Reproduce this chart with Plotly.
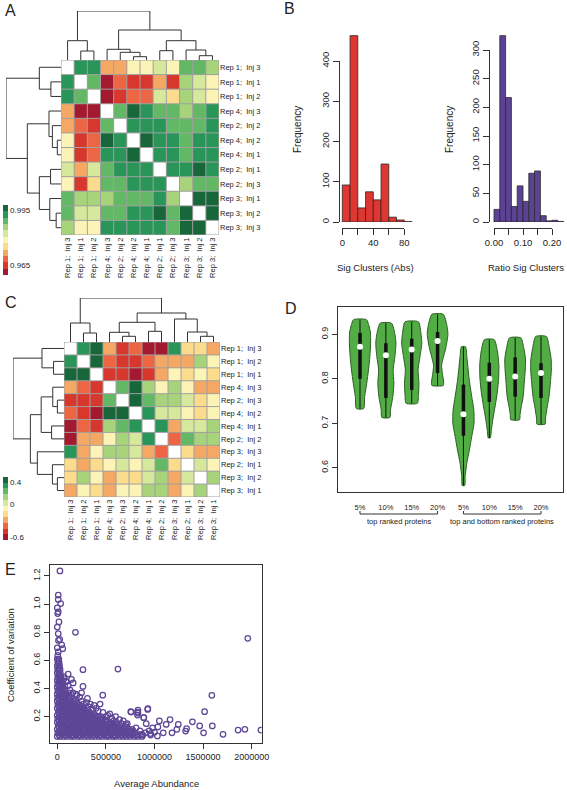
import plotly.graph_objects as go

W, H = 567, 790
def px(x): return x / W
def py(y): return 1 - y / H

FONT = "Liberation Sans, Arial, sans-serif"
TXT = "#222222"
LINE = "#333333"

# ---------------- data: panel A ----------------
labels_A = ["Rep 1;  Inj 3", "Rep 1;  Inj 1", "Rep 1;  Inj 2", "Rep 4;  Inj 3",
            "Rep 2;  Inj 2", "Rep 4;  Inj 2", "Rep 4;  Inj 1", "Rep 2;  Inj 1",
            "Rep 2;  Inj 3", "Rep 3;  Inj 1", "Rep 3;  Inj 2", "Rep 3;  Inj 3"]
corr_A = [
    [None, .993, .993, .972, .972, .979, .979, .982, .979, .989, .989, .986],
    [.993, None, .989, .961, .968, .965, .965, .972, .965, .986, .982, .979],
    [.993, .989, None, .961, .965, .968, .968, .982, .975, .986, .982, .979],
    [.972, .961, .961, None, .989, .996, .993, .989, .989, .986, .989, .993],
    [.972, .968, .965, .989, None, .993, .993, .993, .989, .989, .989, .993],
    [.979, .965, .968, .996, .993, None, .996, .993, .993, .989, .993, .993],
    [.979, .965, .968, .993, .993, .996, None, .993, .993, .989, .993, .993],
    [.982, .972, .982, .989, .993, .993, .993, None, .993, .993, .996, .993],
    [.979, .965, .975, .989, .989, .993, .993, .993, None, .986, .989, .989],
    [.989, .986, .986, .986, .989, .989, .989, .993, .986, None, .996, .996],
    [.989, .982, .982, .989, .989, .993, .993, .996, .989, .996, None, .996],
    [.986, .979, .979, .993, .993, .993, .993, .993, .989, .996, .996, None],
]
range_A = [0.9595, 0.998]
ticks_A = [0.965, 0.995]
# merges: (left, right, height)
merges_A = [(1, 2, 9.0), (0, 12, 19.3), (5, 6, 3.3), (4, 14, 7.7), (3, 15, 10.7),
            (7, 8, 9.3), (10, 11, 4.3), (9, 18, 10.0), (17, 19, 19.3),
            (16, 20, 30.0), (13, 21, 49.0)]

# ---------------- data: panel C ----------------
labels_C = ["Rep 1;  Inj 3", "Rep 1;  Inj 2", "Rep 1;  Inj 1", "Rep 4;  Inj 3",
            "Rep 2;  Inj 3", "Rep 4;  Inj 2", "Rep 4;  Inj 1", "Rep 2;  Inj 2",
            "Rep 3;  Inj 3", "Rep 2;  Inj 1", "Rep 3;  Inj 2", "Rep 3;  Inj 1"]
corr_C = [
    [None, .33, .44, -.29, -.49, -.39, -.60, -.60, .33, -.18, -.18, -.29],
    [.33, None, .44, -.39, -.49, -.49, -.39, -.29, -.29, -.29, .13, -.08],
    [.44, .44, None, -.49, -.49, -.60, -.49, -.29, -.08, -.18, -.08, -.18],
    [-.29, -.39, -.49, None, .23, .44, .13, -.08, .13, -.08, -.29, -.29],
    [-.49, -.49, -.49, .23, None, .44, .23, .13, .13, .02, -.18, -.08],
    [-.39, -.49, -.60, .44, .44, None, .33, .02, .02, -.08, -.18, -.08],
    [-.60, -.39, -.49, .13, .23, .33, None, .33, -.29, .02, .02, .13],
    [-.60, -.29, -.29, -.08, .13, .02, .33, None, -.39, .23, .13, .13],
    [.33, -.29, -.08, .13, .13, .02, -.29, -.39, None, -.18, -.29, -.29],
    [-.18, -.29, -.18, -.08, .02, -.08, .02, .23, -.18, None, .02, -.08],
    [-.18, .13, -.08, -.29, -.18, -.18, .02, .13, -.29, .02, None, .13],
    [-.29, -.08, -.18, -.29, -.08, -.08, .13, .13, -.29, -.08, .13, None],
]
range_C = [-0.655, 0.49]
ticks_C = [-0.6, 0, 0.4]
ticktext_C = ["-0.6", "0", "0.4"]
merges_C = [(1, 2, 9.0), (0, 12, 19.0), (4, 5, 5.7), (3, 14, 9.7), (6, 7, 10.7),
            (15, 16, 19.7), (10, 11, 5.7), (9, 18, 10.0), (8, 19, 23.0),
            (17, 20, 29.0), (13, 21, 44.0)]

heat_colors = ["#A3192F", "#D7372D", "#EC6644", "#F5A863", "#FBDB8C", "#FBF4B6",
               "#D6E89B", "#A7D47B", "#62B865", "#2A9558", "#17673B"]

# ---------------- data: panel B ----------------
abs_edges = [0, 10, 20, 30, 40, 50, 60, 70, 80, 90]
abs_counts = [92, 463, 35, 75, 55, 144, 12, 5, 1]
ratio_edges = [0.00, 0.02, 0.04, 0.06, 0.08, 0.10, 0.12, 0.14, 0.16, 0.18, 0.20, 0.22, 0.24]
ratio_counts = [22, 325, 217, 27, 63, 36, 85, 89, 11, 2, 3, 1]

# ---------------- data: panel D (violins) ----------------
vio_ticks = ["5%", "10%", "15%", "20%", "5%", "10%", "15%", "20%"]
vio_min = [0.733, 0.713, 0.745, 0.785, 0.560, 0.667, 0.708, 0.698]
vio_max = [0.933, 0.925, 0.928, 0.945, 0.872, 0.888, 0.892, 0.895]
vio_q1 = [0.800, 0.757, 0.775, 0.813, 0.672, 0.748, 0.760, 0.757]
vio_q3 = [0.903, 0.880, 0.890, 0.905, 0.787, 0.836, 0.848, 0.835]
vio_med = [0.872, 0.853, 0.866, 0.885, 0.720, 0.800, 0.805, 0.813]
vio_prof_y = [
    [0.733, 0.76, 0.79, 0.82, 0.85, 0.88, 0.905, 0.922, 0.933],
    [0.713, 0.73, 0.76, 0.79, 0.82, 0.85, 0.88, 0.90, 0.925],
    [0.745, 0.765, 0.79, 0.82, 0.85, 0.88, 0.90, 0.928],
    [0.785, 0.795, 0.81, 0.83, 0.845, 0.87, 0.90, 0.92, 0.945],
    [0.560, 0.58, 0.61, 0.64, 0.67, 0.70, 0.73, 0.76, 0.80, 0.85, 0.872],
    [0.667, 0.685, 0.71, 0.74, 0.77, 0.80, 0.83, 0.86, 0.888],
    [0.708, 0.72, 0.735, 0.76, 0.79, 0.82, 0.845, 0.87, 0.892],
    [0.698, 0.71, 0.73, 0.76, 0.79, 0.82, 0.845, 0.87, 0.895],
]
vio_prof_w = [
    [0.14, 0.18, 0.26, 0.33, 0.38, 0.41, 0.40, 0.33, 0.25],
    [0.155, 0.18, 0.27, 0.31, 0.28, 0.35, 0.39, 0.35, 0.22],
    [0.22, 0.26, 0.28, 0.245, 0.32, 0.39, 0.36, 0.26],
    [0.22, 0.23, 0.19, 0.155, 0.21, 0.32, 0.40, 0.36, 0.22],
    [0.05, 0.065, 0.13, 0.23, 0.32, 0.41, 0.40, 0.32, 0.22, 0.13, 0.08],
    [0.04, 0.08, 0.14, 0.23, 0.31, 0.36, 0.37, 0.32, 0.19],
    [0.17, 0.19, 0.23, 0.31, 0.35, 0.39, 0.40, 0.33, 0.22],
    [0.155, 0.17, 0.22, 0.31, 0.36, 0.40, 0.39, 0.32, 0.21],
]
group_labels = ["top ranked proteins", "top and bottom ranked proteins"]

# ---------------- data: panel E (abundance in thousands, CV) ----------------
cv_rows = [0.06, 0.085, 0.11, 0.135, 0.16, 0.185, 0.21, 0.235, 0.26, 0.285, 0.31, 0.335,
           0.36, 0.385, 0.41, 0.435, 0.46, 0.485, 0.51, 0.535, 0.56, 0.585, 0.61, 0.635]
abund_rows_k = [
    [0, 28, 66, 98, 141, 168, 212, 243, 281, 318, 352, 388, 427, 458, 502, 529, 572, 598, 641, 678, 712, 748, 792, 828, 872],
    [6, 41, 73, 112, 148, 186, 219, 257, 288, 331, 363, 402, 438, 471, 508, 547, 578, 622, 653, 692, 728, 762, 798],
    [0, 36, 69, 106, 138, 177, 213, 252, 284, 321, 353, 396, 428, 467, 499, 541, 573, 612, 648, 692, 738, 771],
    [9, 46, 79, 117, 149, 191, 223, 262, 298, 336, 368, 407, 443, 482, 518, 556, 588, 627],
    [0, 34, 71, 108, 146, 178, 217, 248, 291, 323, 362, 398, 437, 468, 507, 543],
    [4, 41, 74, 116, 148, 187, 219, 262, 293, 332, 368, 407, 438, 466],
    [0, 36, 68, 107, 139, 176, 213, 252, 283, 322, 353, 392],
    [11, 44, 81, 113, 152, 183, 222, 253, 292, 328],
    [0, 36, 69, 106, 138, 181, 213, 252, 276],
    [6, 39, 76, 108, 146, 183, 222],
    [0, 36, 68, 107, 139, 176],
    [4, 41, 73, 111, 134],
    [0, 34, 66, 96],
    [6, 39, 77],
    [0, 31, 58],
    [4, 36, 54],
    [0, 26, 49],
    [6, 34],
    [0, 31],
    [4, 29],
    [0, 24],
    [6, 19],
    [0, 16],
    [5],
]
cv_rows_b = [0.0725, 0.0975, 0.1225, 0.1475, 0.1725, 0.1975, 0.2225, 0.2475, 0.2725, 0.2975,
             0.3225, 0.3475, 0.3725, 0.3975, 0.4225, 0.4475, 0.4725, 0.4975, 0.5225, 0.5475,
             0.5725, 0.5975]
abund_rows_b_k = [
    [17, 52, 84, 121, 157, 193, 228, 262, 301, 337, 372, 409, 444, 481, 516, 553, 589, 627, 662, 701, 737, 774, 812, 845],
    [22, 57, 91, 128, 163, 202, 236, 271, 309, 346, 383, 419, 455, 489, 527, 561, 598, 637, 671, 708, 746, 781],
    [18, 53, 88, 122, 159, 196, 231, 268, 303, 338, 376, 411, 448, 484, 519, 557, 592, 631, 667, 702],
    [27, 61, 97, 133, 168, 206, 241, 279, 316, 352, 388, 426, 462, 499, 537, 571, 604],
    [16, 52, 89, 126, 162, 197, 233, 271, 306, 342, 381, 417, 452, 488, 512],
    [22, 57, 94, 131, 167, 203, 241, 277, 312, 349, 387, 421],
    [18, 53, 87, 124, 158, 196, 232, 267, 303, 338, 369],
    [27, 62, 98, 134, 169, 203, 238, 273, 309],
    [16, 52, 88, 122, 159, 196, 231, 254],
    [22, 57, 92, 127, 164, 198],
    [18, 52, 86, 122, 157],
    [21, 56, 89, 116],
    [17, 51, 83],
    [22, 55],
    [14, 44],
    [19, 43],
    [12, 38],
    [17],
    [15],
    [14],
    [12],
    [10],
]
abund_extra_k = [190, 230, 250, 300, 270, 320, 360, 380, 420, 440, 470, 500, 520, 560, 580, 610,
                 640, 660, 700, 720, 200, 160, 130, 110, 90, 70, 120, 310, 250, 340, 400, 450,
                 540, 600, 680, 740, 850, 880, 960, 1000,
                 27, 10, 10, 0, 35, 4, 10, 17, 0, 10, 12, 25, 187, 45, 56, 0, 10, 264, 624, 112,
                 68, 146, 95, 163, 264, 75, 468,
                 756, 830, 830, 932, 890, 1960, 1590, 1515, 1390, 1160, 930, 2095, 1930, 1860,
                 1705, 1595, 1505, 1465, 1320, 1330, 1245, 1230, 1180, 1120, 1035, 1050, 1090,
                 1030, 980, 915, 890, 810, 825, 825, 760, 705, 905, 945, 870, 760, 670, 960]
cv_extra = [0.36, 0.34, 0.31, 0.30, 0.29, 0.27, 0.25, 0.28, 0.24, 0.29, 0.23, 0.20, 0.21, 0.19, 0.17, 0.16,
            0.18, 0.15, 0.13, 0.15, 0.35, 0.37, 0.39, 0.42, 0.45, 0.47, 0.37, 0.33, 0.37, 0.29, 0.26, 0.20,
            0.22, 0.20, 0.17, 0.09, 0.10, 0.07, 0.07, 0.09,
            1.236, 1.064, 1.033, 0.973, 1.004, 0.933, 0.945, 0.873, 0.837, 0.79, 0.742, 0.75, 0.80, 0.711,
            0.683, 0.69, 0.66, 0.534, 0.539, 0.503, 0.484, 0.465, 0.45, 0.44, 0.415, 0.42, 0.353,
            0.236, 0.246, 0.225, 0.257, 0.193, 0.757, 0.352, 0.236, 0.164, 0.18, 0.252, 0.105, 0.11, 0.105,
            0.075, 0.134, 0.086, 0.134, 0.098, 0.115, 0.145, 0.11, 0.086, 0.145, 0.127, 0.17, 0.086,
            0.063, 0.12, 0.15, 0.193, 0.12, 0.233, 0.212, 0.233, 0.146, 0.086, 0.10, 0.074, 0.086, 0.10, 0.08]

# ======================================================================
fig = go.Figure()
layout = {}
_n = [0]


def new_axes(xdom, ydom, xa=None, ya=None):
    _n[0] += 1
    k = _n[0]
    xn, yn = ("xaxis", "yaxis") if k == 1 else (f"xaxis{k}", f"yaxis{k}")
    xr, yr = ("x", "y") if k == 1 else (f"x{k}", f"y{k}")
    base = dict(showgrid=False, zeroline=False, showline=False, showticklabels=False,
                ticks="", fixedrange=True, automargin=False)
    xd = dict(base, domain=xdom, anchor=yr)
    xd.update(xa or {})
    yd = dict(base, domain=ydom, anchor=xr)
    yd.update(ya or {})
    layout[xn] = xd
    layout[yn] = yd
    return xr, yr


def stepped(colors):
    n = len(colors)
    cs = []
    for i, c in enumerate(colors):
        cs.append([i / n, c])
        cs.append([(i + 1) / n, c])
    return cs


def dendro(merges, n):
    pos = {i: float(i) for i in range(n)}
    hgt = {i: 0.0 for i in range(n)}
    xs, ys = [], []
    for k, (a, b, h) in enumerate(merges):
        xs += [pos[a], pos[a], pos[b], pos[b], None]
        ys += [hgt[a], h, h, hgt[b], None]
        pos[n + k] = (pos[a] + pos[b]) / 2
        hgt[n + k] = h
    return xs, ys


def heat_panel(labels, corr, zr, tvals, ttext, merges, box, top_dend, left_dend, cbar):
    n = len(labels)
    x0, x1, y0, y1 = box
    tf = dict(family=FONT, size=7.5, color=TXT)
    xr, yr = new_axes([px(x0), px(x1)], [py(y1), py(y0)],
                      xa=dict(range=[-0.5, n - 0.5], tickmode="array", tickvals=list(range(n)),
                              ticktext=labels, showticklabels=True, tickangle=-90, tickfont=tf),
                      ya=dict(range=[n - 0.5, -0.5], tickmode="array", tickvals=list(range(n)),
                              ticktext=labels, showticklabels=True, side="right", tickfont=tf))
    fig.add_trace(go.Heatmap(
        z=corr, x=list(range(n)), y=list(range(n)), xaxis=xr, yaxis=yr,
        colorscale=stepped(heat_colors), zmin=zr[0], zmax=zr[1], hoverinfo="skip",
        colorbar=dict(x=px(cbar[0]), xanchor="left", y=py((cbar[1] + cbar[2]) / 2), yanchor="middle",
                      len=cbar[2] - cbar[1], lenmode="pixels", thickness=5, thicknessmode="pixels",
                      outlinewidth=0, xpad=0, ypad=0, tickmode="array", tickvals=tvals,
                      ticktext=ttext, ticks="",
                      tickfont=dict(family=FONT, size=8, color=TXT))))
    gx, gy = [], []
    for k in range(n + 1):
        gx += [k - 0.5, k - 0.5, None, -0.5, n - 0.5, None]
        gy += [-0.5, n - 0.5, None, k - 0.5, k - 0.5, None]
    fig.add_trace(go.Scatter(x=gx, y=gy, mode="lines", xaxis=xr, yaxis=yr,
                             line=dict(color="#A0A0A0", width=1), hoverinfo="skip", showlegend=False))
    dx, dy = dendro(merges, n)
    hmax = merges[-1][2]
    txr, tyr = new_axes([px(x0), px(x1)], [py(y0), py(top_dend)],
                        xa=dict(range=[-0.5, n - 0.5]), ya=dict(range=[0, hmax]))
    fig.add_trace(go.Scatter(x=dx, y=dy, mode="lines", xaxis=txr, yaxis=tyr,
                             line=dict(color=LINE, width=1), hoverinfo="skip", showlegend=False))
    lxr, lyr = new_axes([px(left_dend), px(x0)], [py(y1), py(y0)],
                        xa=dict(range=[hmax, 0]), ya=dict(range=[n - 0.5, -0.5]))
    fig.add_trace(go.Scatter(x=dy, y=dx, mode="lines", xaxis=lxr, yaxis=lyr,
                             line=dict(color=LINE, width=1), hoverinfo="skip", showlegend=False))


heat_panel(labels_A, corr_A, range_A, ticks_A, ["0.965", "0.995"], merges_A,
           (61, 219, 60, 235), 11, 6, (3, 205, 275))
heat_panel(labels_C, corr_C, range_C, ticks_C, ticktext_C, merges_C,
           (64, 220, 342, 497), 298, 13, (3, 477, 540))


def r_axes(xdom_px, xrange, xtv, xtt, xpos_px, ydom_px, yrange, ytv, ytt, ypos_px, fsize):
    tf = dict(family=FONT, size=fsize, color=TXT)
    xr, yr = new_axes([px(xdom_px[0]), px(xdom_px[1])], [py(ydom_px[1]), py(ydom_px[0])],
                      xa=dict(range=xrange, anchor="free", position=py(xpos_px), showline=True,
                              linecolor=LINE, linewidth=1, ticks="outside", ticklen=6,
                              tickcolor=LINE, tickwidth=1, tickmode="array", tickvals=xtv,
                              ticktext=xtt, showticklabels=True, tickfont=tf),
                      ya=dict(range=yrange, anchor="free", position=px(ypos_px), showline=True,
                              linecolor=LINE, linewidth=1, ticks="outside", ticklen=6,
                              tickcolor=LINE, tickwidth=1, tickmode="array", tickvals=ytv,
                              ticktext=ytt, showticklabels=True, tickangle=-90, tickfont=tf))
    fig.add_trace(go.Scatter(x=[None], y=[None], xaxis=xr, yaxis=yr, showlegend=False,
                             hoverinfo="skip"))


def hist_panel(edges, counts, color, data_box, x_per_px, x0_px, y_per_px):
    l, r, t, b = data_box
    centers = [(edges[i] + edges[i + 1]) / 2 for i in range(len(counts))]
    widths = [edges[i + 1] - edges[i] for i in range(len(counts))]
    xr, yr = new_axes([px(l), px(r)], [py(b), py(t)],
                      xa=dict(range=[(l - x0_px) * x_per_px, (r - x0_px) * x_per_px]),
                      ya=dict(range=[0, (b - t) * y_per_px]))
    fig.add_trace(go.Bar(x=centers, y=counts, width=widths, xaxis=xr, yaxis=yr,
                         marker=dict(color=color, line=dict(color="#2a2a2a", width=0.8)),
                         hoverinfo="skip", showlegend=False))


hist_panel(abs_edges, abs_counts, "#DE3631", (336, 416, 20, 222), 10 / 7.75, 342.3, 100 / 40.25)
r_axes((342.3, 404.3), [0, 80], [0, 20, 40, 60, 80], ["0", "", "40", "", "80"], 228,
       (61, 222), [0, 400], [0, 100, 200, 300, 400], ["0", "100", "200", "300", "400"], 339, 9.5)
hist_panel(ratio_edges, ratio_counts, "#5C4294", (488, 567, 20, 222), 0.1 / 29, 494, 50 / 28.67)
r_axes((494, 552), [0, 0.2], [0, 0.05, 0.10, 0.15, 0.20], ["0.00", "", "0.10", "", "0.20"], 228,
       (50, 222), [0, 300], [0, 50, 100, 150, 200, 250, 300],
       ["0", "50", "100", "150", "200", "250", "300"], 489, 9.5)

# ---------------- Panel D: violins ----------------
nv = len(vio_ticks)
dxr, dyr = new_axes([px(338), px(563)], [py(492), py(307)],
                    xa=dict(range=[0.149, 8.85], showline=True, mirror=True, linecolor=LINE,
                            linewidth=1, tickmode="array", tickvals=list(range(1, nv + 1)),
                            ticktext=vio_ticks, showticklabels=True, ticklabelstandoff=8,
                            tickfont=dict(family=FONT, size=7.5, color=TXT)),
                    ya=dict(range=[0.5454, 0.9614], showline=True, mirror=True, linecolor=LINE,
                            linewidth=1, ticks="outside", ticklen=5, tickcolor=LINE,
                            tickmode="array", tickvals=[0.6, 0.7, 0.8, 0.9],
                            ticktext=["0.6", "0.7", "0.8", "0.9"], showticklabels=True,
                            tickangle=-90, tickfont=dict(family=FONT, size=9, color=TXT)))
for i in range(nv):
    pos = i + 1
    ys = vio_prof_y[i]
    ws = vio_prof_w[i]
    vx = [pos + w for w in ws] + [pos - w for w in reversed(ws)] + [pos + ws[0]]
    vy = list(ys) + list(reversed(ys)) + [ys[0]]
    fig.add_trace(go.Scatter(x=vx, y=vy, mode="lines", fill="toself", fillcolor="#52AD45",
                             line=dict(color="#2B5E22", width=1, shape="spline", smoothing=0.6),
                             xaxis=dxr, yaxis=dyr, hoverinfo="skip", showlegend=False))
    fig.add_trace(go.Scatter(x=[pos, pos], y=[vio_min[i], vio_max[i]], mode="lines",
                             line=dict(color="#111111", width=1), xaxis=dxr, yaxis=dyr,
                             hoverinfo="skip", showlegend=False))
    fig.add_trace(go.Scatter(x=[pos, pos], y=[vio_q1[i], vio_q3[i]], mode="lines",
                             line=dict(color="#111111", width=3.5), xaxis=dxr, yaxis=dyr,
                             hoverinfo="skip", showlegend=False))
fig.add_trace(go.Scatter(x=list(range(1, nv + 1)), y=vio_med, mode="markers",
                         marker=dict(color="white", size=6, line=dict(width=0)),
                         xaxis=dxr, yaxis=dyr, hoverinfo="skip", showlegend=False))

shapes = []
annotations = []
for g, (a, b) in enumerate([(1, 4), (5, 8)]):
    for (xa_, ya_, xb_, yb_) in [(a, 514, b, 514), (a, 511, a, 514), (b, 511, b, 514)]:
        shapes.append(dict(type="line", xref=dxr, yref="paper", x0=xa_, x1=xb_,
                           y0=py(ya_), y1=py(yb_), line=dict(color=LINE, width=1)))
    annotations.append(dict(text=group_labels[g], xref=dxr, yref="paper", x=(a + b) / 2,
                            y=py(521), xanchor="center", yanchor="middle", showarrow=False,
                            font=dict(family=FONT, size=7.5, color=TXT)))

# ---------------- Panel E: scatter ----------------
ex, ey = [], []
for cv, row in list(zip(cv_rows, abund_rows_k)) + list(zip(cv_rows_b, abund_rows_b_k)):
    for a in row:
        ex.append(a * 1000)
        ey.append(cv)
for a, cv in zip(abund_extra_k, cv_extra):
    ex.append(a * 1000)
    ey.append(cv)

exr, eyr = new_axes([px(50), px(261.7)], [py(743.3), py(565)],
                    xa=dict(range=[-75000, 2103000], showline=True, mirror=True, linecolor=LINE,
                            linewidth=1, ticks="outside", ticklen=5, tickcolor=LINE,
                            tickmode="array", tickvals=[0, 500000, 1000000, 1500000, 2000000],
                            ticktext=["0", "500000", "1000000", "1500000", "2000000"],
                            showticklabels=True, tickfont=dict(family=FONT, size=9, color=TXT)),
                    ya=dict(range=[0.011, 1.278], showline=True, mirror=True, linecolor=LINE,
                            linewidth=1, ticks="outside", ticklen=5, tickcolor=LINE,
                            tickmode="array", tickvals=[0.2, 0.4, 0.6, 0.8, 1.0, 1.2],
                            ticktext=["0.2", "0.4", "0.6", "0.8", "1.0", "1.2"],
                            showticklabels=True, tickangle=-90,
                            tickfont=dict(family=FONT, size=9, color=TXT)))
fig.add_trace(go.Scatter(x=ex, y=ey, mode="markers", xaxis=exr, yaxis=eyr,
                         marker=dict(symbol="circle-open", size=5.5, color="#5E4697",
                                     line=dict(width=1.25, color="#5E4697")),
                         hoverinfo="skip", showlegend=False))


def txt(t, x, y, size, angle=0, xanchor="center"):
    annotations.append(dict(text=t, xref="paper", yref="paper", x=px(x), y=py(y),
                            xanchor=xanchor, yanchor="middle", showarrow=False, textangle=angle,
                            font=dict(family=FONT, size=size, color=TXT)))

txt("A", 3, 11, 16, xanchor="left")
txt("B", 282, 9, 16, xanchor="left")
txt("C", 3, 302, 16, xanchor="left")
txt("D", 283, 308, 16, xanchor="left")
txt("E", 3, 569, 16, xanchor="left")
txt("Frequency", 297, 130, 10, angle=-90)
txt("Frequency", 449, 130, 10, angle=-90)
txt("Sig Clusters (Abs)", 375, 267, 9.5)
txt("Ratio Sig Clusters", 526, 267, 9.5)
txt("Average Abundance", 156, 783, 9.5)
txt("Coefficient of variation", 10, 655, 9.5, angle=-90)

layout.update(width=W, height=H,
              margin=dict(l=0, r=0, t=0, b=0, pad=0, autoexpand=False),
              paper_bgcolor="white", plot_bgcolor="rgba(0,0,0,0)", showlegend=False,
              shapes=shapes, annotations=annotations, font=dict(family=FONT, color=TXT))
fig.update_layout(**layout)
fig.write_html("out.html", config={"displayModeBar": False, "staticPlot": True},
               post_script="document.body.style.margin='0px';document.body.style.padding='0px';")
